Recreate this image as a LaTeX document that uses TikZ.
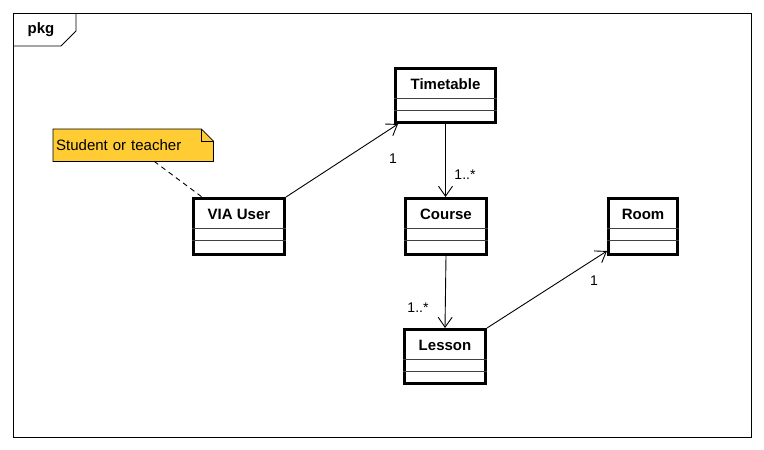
\documentclass[tikz,border=0pt]{standalone}
\usepackage{fontspec}
\setmainfont{Liberation Sans}
\usetikzlibrary{calc,arrows.meta,backgrounds}
\definecolor{notefill}{RGB}{255,204,51}
\tikzset{
	classbox/.style={draw, line width=2.6pt, fill=white, inner sep=0pt},
	classname/.style={font=\fontsize{15}{18}\selectfont\bfseries, inner sep=0pt},
	compline/.style={line width=0.9pt, color=black!75},
	assoc/.style={line width=0.9pt, -{Straight Barb[length=10pt, width=14pt]}},
	mult/.style={font=\fontsize{14}{17}\selectfont, inner sep=0pt},
	notetext/.style={font=\fontsize{15}{18}\selectfont, inner sep=3pt, text width=154pt, align=left, minimum height=32pt, anchor=north west}
}
% class box: (name)(left,top)(right,bottom){title}
\def\umlclass(#1)(#2,#3)(#4,#5)#6{%
	\node[classbox, minimum width=#4-#2-2.6, minimum height=#5-#3-2.6] (#1) at ({(#2+#4)/2},{(#3+#5)/2}) {};
	\node[classname] (#1-name) at ($(#1.north)+(0,17.5)$) {#6};
	\draw[compline] ($(#1.north west)+(0,31.5)$) -- ($(#1.north east)+(0,31.5)$);
	\draw[compline] ($(#1.north west)+(0,43)$) -- ($(#1.north east)+(0,43)$);
}

\begin{document}
\begin{tikzpicture}[x=1pt, y=-1pt]
			%%%%% START %%%%%
			\useasboundingbox (0, 0) rectangle (764, 450);
			
			% package frame
			\draw[line width=0.9pt] (13, 13) rectangle (751, 437);
			\draw[line width=0.9pt] (13, 46) -- (61, 46) -- (76, 31) -- (76, 13);
			\node[classname] (pkg) at (41, 30) {pkg};
			
			% classes
			\umlclass(via)(192, 197)(286, 256){VIA User}
			\umlclass(tt)(394, 67)(497, 124){Timetable}
			\umlclass(course)(404, 197)(488, 256){Course}
			\umlclass(room)(607, 197)(679, 256){Room}
			\umlclass(lesson)(403, 328)(487, 385){Lesson}
			
			% note
			\node[notetext] (note) at (53, 129) {Student or teacher};
			\begin{scope}[on background layer]
				\draw[line width=0.8pt, fill=notefill] (note.north west) -- ([xshift=-12pt]note.north east) -- ([yshift=-12pt]note.north east) -- (note.south east) -- (note.south west) -- cycle;
				\draw[line width=0.8pt] ([xshift=-12pt]note.north east) |- ([yshift=-12pt]note.north east);
			\end{scope}
			\draw[line width=0.9pt, dash pattern=on 5pt off 4pt] ([xshift=21pt]note.south) -- ([xshift=10pt]via.north west);
			
			% associations
			\draw[assoc] (via.north east) -- ([xshift=4pt]tt.south west);
			\draw[assoc] (tt.south) -- (tt.south |- course.north);
			\draw[assoc] (course.south) -- (lesson.north);
			\draw[assoc] (lesson.north east) -- ([yshift=5pt]room.south west);
			
			\node[mult] (m1) at (393, 159) {1};
			\node[mult] (m2) at (465, 175) {1..*};
			\node[mult] (m3) at (418, 308) {1..*};
			\node[mult] (m4) at (594, 281) {1};
			
			%%%%% END %%%%%
\end{tikzpicture}
\end{document}
